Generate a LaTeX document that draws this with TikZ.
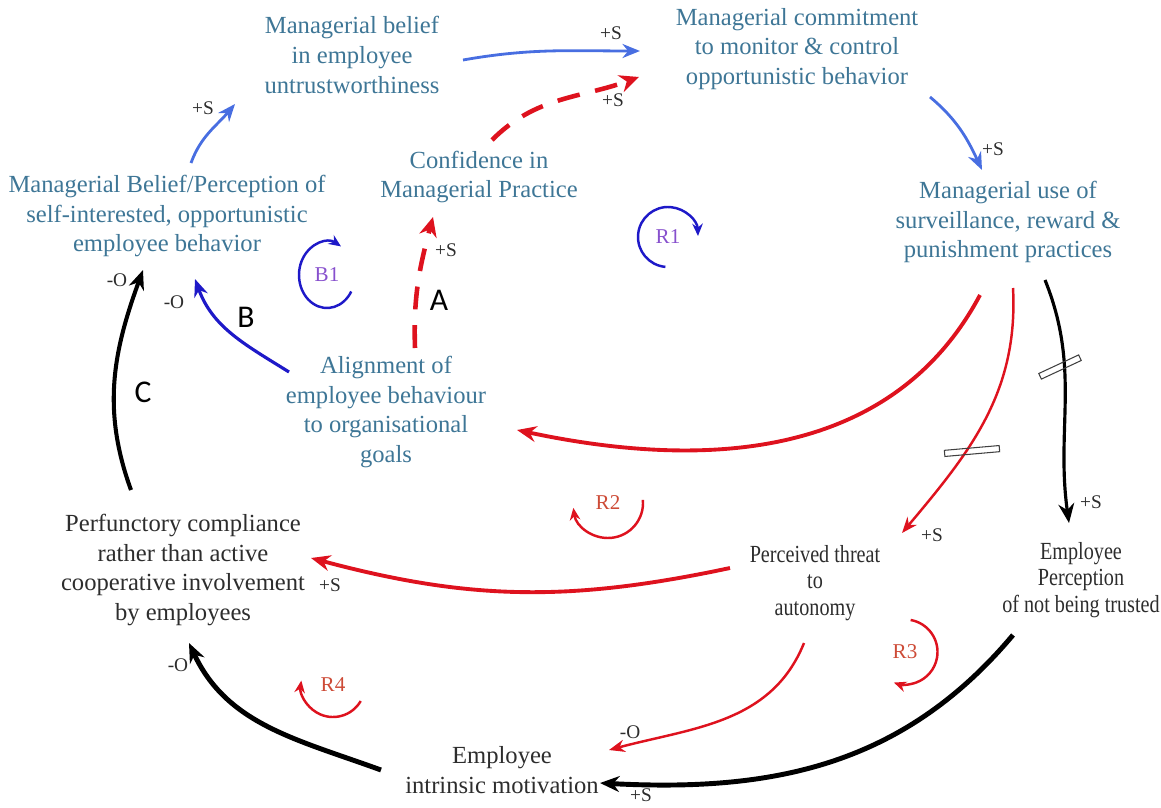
\documentclass[tikz,border=0pt]{standalone}
\usepackage{fontspec}
\setmainfont{Liberation Serif}
\newfontfamily\narrowserif[FakeStretch=0.82]{Liberation Serif}
\newfontfamily\lettersf{Carlito}
\usetikzlibrary{arrows.meta}

\definecolor{vartext}{RGB}{62,118,150}
\definecolor{darktext}{RGB}{45,45,45}
\definecolor{linkblue}{RGB}{72,110,225}
\definecolor{loopblue}{RGB}{30,25,200}
\definecolor{looppurple}{RGB}{135,80,205}
\definecolor{linkred}{RGB}{222,18,30}
\definecolor{loopred}{RGB}{205,75,55}

\begin{document}
\begin{tikzpicture}
\useasboundingbox (0,0) rectangle (23.22,-16.14);

			% variables of the loop diagram
			\begin{scope}[every node/.style={align=center,inner sep=2pt,
				font=\fontsize{14}{17}\selectfont}]
				\node[vartext] (belief) at (7.04,-1.10) {Managerial belief\\in employee\\untrustworthiness};
				\node[vartext] (commit) at (15.94,-0.98) {Managerial commitment\\to monitor \& control\\opportunistic behavior};
				\node[vartext] (use) at (20.16,-4.44) {Managerial use of\\surveillance, reward \&\\punishment practices};
				\node[vartext] (confid) at (9.58,-3.54) {Confidence in\\Managerial Practice};
				\node[vartext] (percep) at (3.34,-4.32) {Managerial Belief/Perception of\\self-interested, opportunistic\\employee behavior};
				\node[vartext] (align) at (7.72,-8.24) {Alignment of\\employee behaviour\\to organisational\\goals};
				\node[darktext] (perfunct) at (3.66,-11.40) {Perfunctory compliance\\rather than active\\cooperative involvement\\by employees};
				\node[darktext,font=\narrowserif\fontsize{14}{15.2}\selectfont] (threat) at (16.30,-11.66) {Perceived threat\\to\\autonomy};
				\node[darktext,font=\narrowserif\fontsize{14}{15.2}\selectfont] (notrusted) at (21.62,-11.60) {Employee\\Perception\\of not being trusted};
				\node[darktext] (motiv) at (10.04,-15.40) {Employee\\intrinsic motivation};
			\end{scope}

			% polarity marks
			\begin{scope}[every node/.style={darktext,inner sep=1pt,
				font=\fontsize{11}{13}\selectfont}]
				\node (sA) at (12.22,-0.66) {+S};
				\node (sB) at (12.26,-2.00) {+S};
				\node (sC) at (19.86,-2.98) {+S};
				\node (sD) at (4.06,-2.16) {+S};
				\node (oE) at (3.48,-6.04) {-O};
				\node (sF) at (8.92,-5.00) {+S};
				\node (oG) at (2.34,-5.60) {-O};
				\node (sI) at (18.64,-10.70) {+S};
				\node (sJ) at (21.82,-10.04) {+S};
				\node (sK) at (6.60,-11.70) {+S};
				\node (oL) at (12.60,-14.64) {-O};
				\node (sM) at (12.82,-15.90) {+S};
				\node (oN) at (3.56,-13.30) {-O};
			\end{scope}

			\begin{scope}[every node/.style={black,font=\lettersf\fontsize{18}{20}\selectfont}]
				\node (pathA) at (8.78,-6.00) {A};
				\node (pathB) at (4.92,-6.34) {B};
				\node (pathC) at (2.86,-7.84) {C};
			\end{scope}

			% loop names
			\begin{scope}[every node/.style={font=\fontsize{12}{14}\selectfont}]
				\node[looppurple] (b1) at (6.54,-5.50) {B1};
				\node[looppurple] (r1) at (13.36,-4.74) {R1};
				\node[loopred] (r2) at (12.16,-10.06) {R2};
				\node[loopred] (r3) at (18.10,-13.04) {R3};
				\node[loopred] (r4) at (6.66,-13.70) {R4};
			\end{scope}

			\begin{scope}[>={Stealth},
				every edge/.style={draw},
				bluelink/.style={->,linkblue,line width=1.6pt,>={Stealth[length=10pt,width=8pt]}},
				redlink/.style={->,linkred,line width=2.2pt,>={Stealth[length=11pt,width=9pt]}},
				thinred/.style={->,linkred,line width=1.4pt,>={Stealth[length=9pt,width=7pt]}},
				dashred/.style={->,linkred,line width=2.6pt,dash pattern=on 13pt off 9pt,>={Stealth[length=11pt,width=10pt]}},
				blacklink/.style={->,black,line width=2.3pt,>={Stealth[length=11pt,width=9pt]}}]
				\path[bluelink] ([shift={(2.22,-0.10)}]belief.center) edge[out=10,in=180] ([shift={(-3.14,-0.04)}]commit.center);
				\path[dashred] ([shift={(0.26,0.74)}]confid.center) edge[out=45,in=200] ([shift={(-3.16,-0.56)}]commit.center);
				\path[bluelink] ([shift={(2.66,-0.96)}]commit.center) edge[out=-40,in=115] ([shift={(-0.52,1.04)}]use.center);
				\path[bluelink] ([shift={(0.48,1.06)}]percep.center) edge[out=70,in=230] ([shift={(-2.34,-0.98)}]belief.center);
				\path[->,loopblue,line width=1.8pt,>={Stealth[length=10pt,width=8pt]}]
					([shift={(-1.94,0.80)}]align.center) edge[out=148,in=-70] ([shift={(0.56,-1.26)}]percep.center);
				\path[dashred] ([shift={(0.58,1.28)}]align.center) edge[out=92,in=-105] ([shift={(-0.92,-0.80)}]confid.center);
				\path[blacklink] ([shift={(-1.04,1.60)}]perfunct.center) edge[out=110,in=-110] ([shift={(-0.48,-1.08)}]percep.center);
				\path[redlink] ([shift={(-0.56,-1.46)}]use.center) edge[out=-118,in=-12] ([shift={(2.62,-0.36)}]align.center);
				\path[thinred] ([shift={(0.10,-1.32)}]use.center) edge[out=-87,in=50] ([shift={(1.74,1.00)}]threat.center);
				\path[blacklink,line width=1.8pt] ([shift={(0.74,-1.16)}]use.center) edge[out=-68,in=98] ([shift={(-0.24,1.14)}]notrusted.center);
				\path[redlink] ([shift={(-1.70,0.30)}]threat.center) edge[out=192,in=-15] ([shift={(2.56,0.24)}]perfunct.center);
				\path[thinred] ([shift={(-0.22,-1.20)}]threat.center) edge[out=-112,in=15] ([shift={(2.14,0.40)}]motiv.center);
				\path[blacklink,line width=2.8pt] ([shift={(-1.36,-1.10)}]notrusted.center) edge[out=-130,in=-3] ([shift={(1.96,-0.26)}]motiv.center);
				\path[blacklink,line width=2.8pt] ([shift={(-2.42,0)}]motiv.center) edge[out=160,in=-65] ([shift={(0.12,-1.46)}]perfunct.center);
			\end{scope}

			% delay marks
			\begin{scope}[every node/.style={draw=black!75,line width=0.6pt,inner sep=0pt,
				minimum height=3.5pt}]
				\node[rotate=25,minimum width=0.88cm] (delayJ) at (21.20,-7.34) {};
				\node[rotate=5,minimum width=1.1cm] (delayI) at (19.44,-9.02) {};
			\end{scope}

			% loop arcs
			\begin{scope}[line width=1.4pt,>={Stealth[length=7pt,width=6pt]}]
				\draw[->,loopblue] (b1.center) ++(-30:0.56 and 0.66) arc[start angle=-30,end angle=-300,x radius=0.56,y radius=0.66];
				\draw[->,loopblue] (r1.center) ++(-95:0.60) arc[start angle=-95,end angle=-358,radius=0.60];
				\draw[->,linkred] (r2.center) ++(5:0.70) arc[start angle=5,end angle=-172,radius=0.70];
				\draw[->,linkred] (r3.center) ++(80:0.65) arc[start angle=80,end angle=-110,radius=0.65];
				\draw[->,linkred] (r4.center) ++(-30:0.64) arc[start angle=-30,end angle=-188,radius=0.64];
			\end{scope}
		\end{tikzpicture}
\end{document}
